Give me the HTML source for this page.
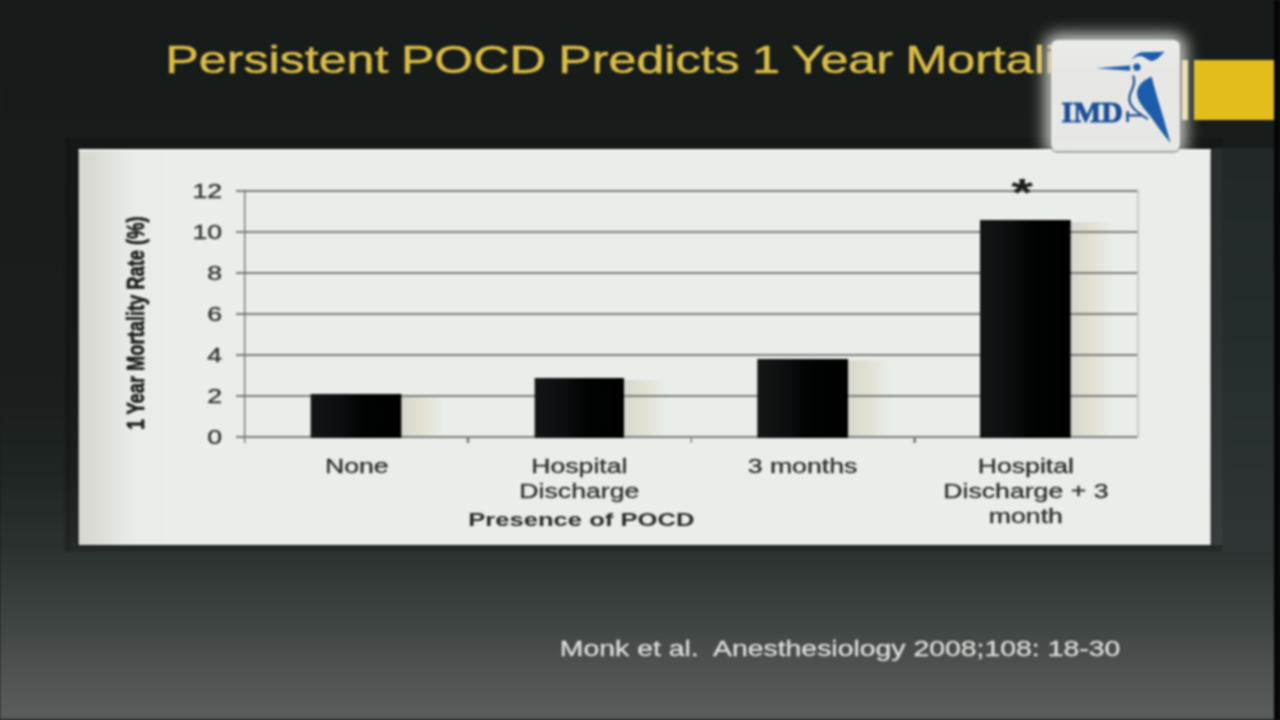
<!DOCTYPE html>
<html><head><meta charset="utf-8">
<style>
html,body{margin:0;padding:0;width:1280px;height:720px;overflow:hidden;background:#181d1c;}
#all{position:absolute;left:0;top:0;width:1280px;height:720px;filter:blur(0.8px);}
#bg{position:absolute;left:0;top:0;width:1280px;height:720px;
 background:linear-gradient(to bottom,#171c1a 0px,#191e1c 300px,#1a1f1d 400px,#1f2523 470px,#2c3230 550px,#3e4442 620px,#4e5351 670px,#565b59 705px,#595e5c 717px,#3a3f3d 720px);}
#stage{position:absolute;left:0;top:0;width:960px;height:720px;transform:scaleX(1.333333);transform-origin:0 0;
 font-family:"Liberation Sans",Arial,sans-serif;}
.abs{position:absolute;}
#title{position:absolute;left:124px;top:40.3px;word-spacing:-1.1px;font-size:39.2px;transform:scaleX(0.96);transform-origin:0 0;line-height:1;color:#dabd48;-webkit-text-stroke:0.5px #d6b743;white-space:nowrap;}
#frame{position:absolute;left:48px;top:136.6px;width:869.25px;height:415.9px;background:rgba(0,0,0,0.14);}
#fline{position:absolute;left:49.5px;top:138px;width:2.5px;height:414px;background:rgba(0,0,0,0.2);}
#panel{position:absolute;left:58.5px;top:149px;width:849.75px;height:395.6px;box-shadow:0 0 0 1.5px rgba(0,0,0,0.28);background:linear-gradient(to right,#e2e4df 0px,#d6d7cf 1.5px,#d9dad2 10px,#dfe1da 22px,#e5e8e3 32px,#e9ece8 45px,#eaeeea 70px);}
#rside{position:absolute;left:917.25px;top:148.4px;width:38.25px;height:404px;background:linear-gradient(to bottom,#212827,#262e2d 50%,#2e3534);}
#rframe{position:absolute;left:908.25px;top:148.4px;width:9px;height:396.2px;background:linear-gradient(to bottom,#272e2d,#2c3332 50%,#363d3c);}
.grid{position:absolute;left:176.7px;width:676.4px;height:2px;background:#7a7d79;}
.bar{position:absolute;background:linear-gradient(to right,#121615 0%,#0b0e0e 35%,#020303 55%,#000 100%);}
.shadow{position:absolute;background:linear-gradient(to right,#d4d5cf 0%,#dbdbd1 20%,#e1e0d2 45%,#e5e6dc 70%,rgba(234,238,234,0) 100%);}
.ylab{position:absolute;width:40px;text-align:right;font-size:20px;line-height:20px;color:#333433;-webkit-text-stroke:0.4px #333433;}
.xlab{position:absolute;width:200px;text-align:center;font-size:20px;line-height:25.2px;color:#2c2d2c;-webkit-text-stroke:0.3px #2c2d2c;}
</style></head><body>
<div id="all">
<div id="bg"></div>
<div id="stage">
  <div id="title">Persistent POCD Predicts 1 Year Mortality</div>
  <div id="frame"></div>
  <div id="fline"></div>
  <div id="rside"></div>
  <div id="rframe"></div>
  <div id="panel"></div>
  <div class="abs" style="left:58.5px;top:149.3px;width:849.75px;height:2px;background:#f3f6f3;"></div>
  <!-- bar shadows -->
  <div class="shadow" style="left:300.8px;top:396px;width:32px;height:40px;"></div>
  <div class="shadow" style="left:467.7px;top:380px;width:32px;height:56px;"></div>
  <div class="shadow" style="left:635.5px;top:360px;width:32px;height:76px;"></div>
  <div class="shadow" style="left:802.8px;top:222px;width:32px;height:214px;"></div>
  <!-- gridlines -->
  <div class="grid" style="top:190.1px"></div>
  <div class="grid" style="top:231.0px"></div>
  <div class="grid" style="top:272.0px"></div>
  <div class="grid" style="top:312.9px"></div>
  <div class="grid" style="top:353.8px"></div>
  <div class="grid" style="top:394.8px"></div>
  <div class="grid" style="top:435.7px"></div>
  <!-- right border -->
  <div class="abs" style="left:852.6px;top:190.1px;width:1px;height:248px;background:#b7bab7;"></div>
  <!-- y axis -->
  <div class="abs" style="left:182.6px;top:190.1px;width:1.5px;height:253.2px;background:#6f726f;"></div>
  <!-- category ticks -->
  <div class="abs" style="left:350.3px;top:436px;width:1.5px;height:7px;background:#7a7d7a;"></div>
  <div class="abs" style="left:517.8px;top:436px;width:1.5px;height:7px;background:#7a7d7a;"></div>
  <div class="abs" style="left:685.2px;top:436px;width:1.5px;height:7px;background:#7a7d7a;"></div>
  <!-- bars -->
  <div class="bar" style="left:232.95px;top:394.2px;width:67.9px;height:43.5px;"></div>
  <div class="bar" style="left:400.9px;top:378px;width:66.8px;height:59.7px;"></div>
  <div class="bar" style="left:567.5px;top:358.6px;width:68px;height:79.1px;"></div>
  <div class="bar" style="left:735.3px;top:220.1px;width:67.5px;height:217.6px;"></div>
  <!-- asterisk -->
  <div class="abs" style="left:738.75px;top:174.5px;width:55px;text-align:center;font-size:38px;font-weight:bold;line-height:36px;color:#1a1b1a;transform:scaleX(1.1);">*</div>
  <!-- y labels -->
  <div class="ylab" style="left:126.6px;top:181px;">12</div>
  <div class="ylab" style="left:126.6px;top:222px;">10</div>
  <div class="ylab" style="left:126.6px;top:263px;">8</div>
  <div class="ylab" style="left:126.6px;top:304px;">6</div>
  <div class="ylab" style="left:126.6px;top:345px;">4</div>
  <div class="ylab" style="left:126.6px;top:386px;">2</div>
  <div class="ylab" style="left:126.6px;top:427px;">0</div>
  <!-- y title -->
  <div class="abs" style="left:103.9px;top:323px;width:0;height:0;">
    <div style="position:absolute;left:-151.9px;top:-10px;width:300px;text-align:center;font-size:18.3px;line-height:20px;font-weight:bold;color:#1c1d1c;-webkit-text-stroke:0.55px #1c1d1c;transform:rotate(-90deg);white-space:nowrap;">1 Year Mortality Rate (%)</div>
  </div>
  <!-- x labels -->
  <div class="xlab" style="left:167.6px;top:453.7px;">None</div>
  <div class="xlab" style="left:334.5px;top:453.8px;">Hospital<br>Discharge</div>
  <div class="xlab" style="left:501.9px;top:453.8px;">3 months</div>
  <div class="xlab" style="left:669.4px;top:453.8px;">Hospital<br>Discharge + 3<br>month</div>
  <div class="abs" style="left:336px;top:509.3px;width:200px;text-align:center;font-size:19.2px;font-weight:bold;color:#2a2b2a;white-space:nowrap;">Presence of POCD</div>
  <!-- citation -->
  <div class="abs" style="left:419.9px;top:637px;font-size:21.3px;color:#dcdfdc;-webkit-text-stroke:0.3px #dcdfdc;white-space:pre;">Monk et al.  Anesthesiology 2008;108: 18-30</div>
</div>
<!-- logo overlay (unscaled coordinates) -->
<div class="abs" style="left:1182px;top:60px;width:5.5px;height:60px;background:#e8d68e;"></div>
<div class="abs" style="left:1193.6px;top:60.1px;width:80.6px;height:59.8px;background:#e2bd1c;"></div>
<div class="abs" style="left:1274px;top:0;width:6px;height:720px;background:#050606;"></div>
<div class="abs" style="left:1050.8px;top:39.6px;width:129.4px;height:111px;border-radius:6px;background:linear-gradient(to bottom,#ebece9,#e6e7e4 30%,#e8e9e6);box-shadow:0 1px 0 0.5px rgba(60,62,60,0.55),0 0 16px 6px rgba(236,236,230,0.85);"></div>
<svg class="abs" style="left:0;top:0;" width="1280" height="720" viewBox="0 0 1280 720">
  <g fill="#1c5cab">
    <path d="M1095.8,68.2 L1130.2,65.4 L1130.2,70.8 Z"/>
    <circle cx="1136.9" cy="67.2" r="3.6"/>
    <path d="M1131.4,59.7 C1134,56.5 1137,53.2 1141.1,52.2 L1164.6,51.8 C1161,55.5 1157,60 1151.7,61.2 C1148,60.5 1146,57.5 1142,56.2 C1138,55.6 1134.5,57.5 1131.4,59.7 Z"/>
    <path d="M1151.6,76.4 C1155.5,92 1160,106 1163.5,118 L1170.6,143.2 L1160.8,130.8 L1150.6,116.4 C1144,108.5 1137,101 1137,93.5 C1137,86 1143,80 1151.6,76.4 Z"/>
  </g>
  <g fill="none" stroke="#1d4f93" stroke-linecap="round">
    <path d="M1133.4,76.4 C1135.2,80.5 1134.2,85 1131.2,91.5 C1127.5,99 1130,106 1137,111.5 C1140,114 1143.5,116.5 1147.2,118.6" stroke-width="2.2"/>
    <path d="M1127.2,115.4 L1141,115.4" stroke-width="2.4"/>
    <path d="M1127.6,111.2 L1127.6,122" stroke-width="2.6" stroke-linecap="butt"/>
  </g>
  <text x="1061.6" y="121.9" textLength="61.2" lengthAdjust="spacingAndGlyphs" font-family="Liberation Serif, serif" font-weight="bold" font-size="28.4" fill="#1b4f98" stroke="#1b4f98" stroke-width="0.9">IMD</text>
</svg>
</div>
</body></html>
